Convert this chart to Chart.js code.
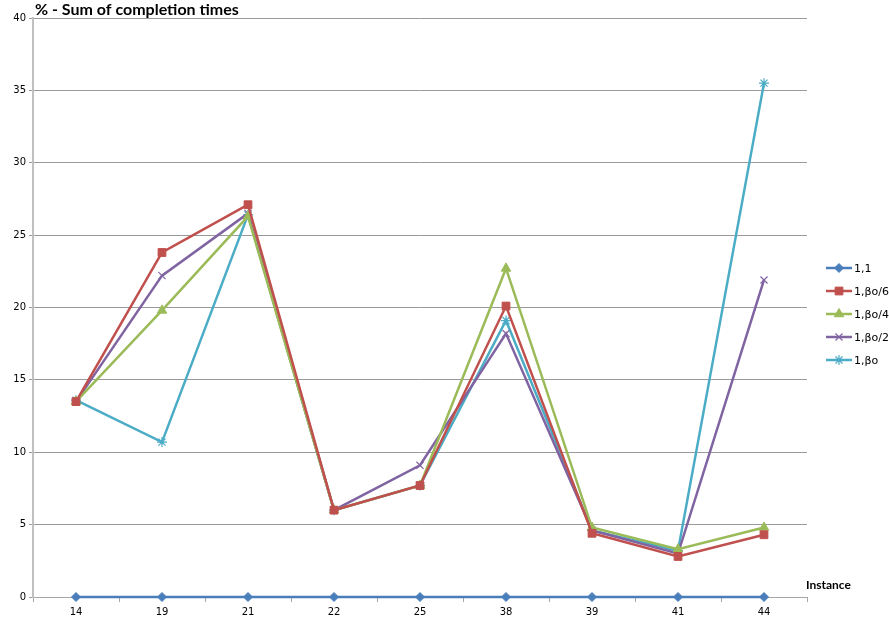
<!DOCTYPE html>
<html>
<head>
<meta charset="utf-8">
<script src="https://cdn.jsdelivr.net/npm/chart.js@4/dist/chart.umd.min.js"></script>
<style>
  html, body { margin: 0; padding: 0; background: #fff; }
  #wrap { width: 889px; height: 625px; }
</style>
</head>
<body>
<div id="wrap"><canvas id="chart" width="889" height="625"></canvas></div>
<script>
// data
var instances = ['14', '19', '21', '22', '25', '38', '39', '41', '44'];
var s11 = [0, 0, 0, 0, 0, 0, 0, 0, 0];
var sB6 = [13.5, 23.8, 27.1, 6.0, 7.7, 20.1, 4.4, 2.8, 4.3];
var sB4 = [13.5, 19.8, 26.3, 6.0, 7.7, 22.7, 4.8, 3.3, 4.8];
var sB2 = [13.5, 22.2, 26.5, 6.0, 9.1, 18.2, 4.6, 3.0, 21.9];
var sB1 = [13.6, 10.7, 26.4, 6.0, 7.7, 19.1, 4.6, 3.2, 35.5];
var yTicks = [0, 5, 10, 15, 20, 25, 30, 35, 40];

var titleText = '% - Sum of completion times';
var xTitle = 'Instance';

function series(label, data, color, style, radius) {
    return {
        label: label,
        data: data,
        borderColor: color,
        backgroundColor: color,
        borderWidth: 2.5,
        pointStyle: style,
        pointRadius: radius,
        pointHoverRadius: radius,
        pointBorderWidth: style === 'crossRot' || style === 'star' ? 1.2 : 1,
        tension: 0,
        clip: false
    };
}

var datasets = [
    series('1,1', s11, '#4A7EBB', 'rectRot', 4.5),
    series('1,\u03b2o/6', sB6, '#C0504D', 'rect', 5.5),
    series('1,\u03b2o/4', sB4, '#9BBB59', 'triangle', 5.5),
    series('1,\u03b2o/2', sB2, '#8064A2', 'crossRot', 5),
    series('1,\u03b2o', sB1, '#4BACC6', 'star', 5)
];

// title, axis label and legend drawn on top
var extras = {
    id: 'extras',
    afterDraw: function(chart) {
        var c = chart.ctx;
        c.save();
        c.fillStyle = '#000';
        c.textBaseline = 'alphabetic';
        c.textAlign = 'left';
        c.font = 'bold 16px Lato';
        c.fillText(titleText, 35, 15);
        c.font = 'bold 12px Lato';
        c.fillText(xTitle, 806, 589);

        // legend
        c.font = '11px "DejaVu Sans"';
        c.textBaseline = 'middle';
        datasets.forEach(function(ds, i) {
            var y = 268 + i * 23;
            c.strokeStyle = ds.borderColor;
            c.lineWidth = 2.5;
            c.beginPath();
            c.moveTo(826, y);
            c.lineTo(852, y);
            c.stroke();
            c.lineWidth = ds.pointBorderWidth;
            c.fillStyle = ds.backgroundColor;
            Chart.helpers.drawPoint(c, {
                pointStyle: ds.pointStyle,
                radius: ds.pointRadius,
                borderWidth: ds.pointBorderWidth,
                rotation: 0
            }, 839, y);
            c.fillStyle = '#000';
            c.fillText(ds.label, 854, y + 1);
        });
        c.restore();
    }
};

document.addEventListener('DOMContentLoaded', function() {
    var ctx = document.getElementById('chart').getContext('2d');
    var chart = new Chart(ctx, {
        type: 'line',
        data: {
            labels: instances,
            datasets: datasets
        },
        options: {
            responsive: false,
            animation: false,
            layout: { padding: { top: 18, right: 82, left: 0, bottom: 0 } },
            plugins: {
                legend: { display: false },
                title: { display: false },
                tooltip: { enabled: false }
            },
            scales: {
                x: {
                    offset: true,
                    grid: {
                        offset: true,
                        drawOnChartArea: false,
                        drawTicks: true,
                        tickLength: 5,
                        color: '#a6a6a6'
                    },
                    border: { color: '#a6a6a6', width: 1 },
                    ticks: {
                        color: '#000',
                        font: { size: 10, family: 'DejaVu Sans' },
                        padding: 4,
                        maxRotation: 0
                    },
                    afterFit: function(scale) { scale.height = 28; }
                },
                y: {
                    min: 0,
                    max: 40,
                    afterBuildTicks: function(scale) {
                        scale.ticks = yTicks.map(function(v) { return { value: v }; });
                    },
                    grid: {
                        color: '#9a9a9a',
                        lineWidth: 1,
                        drawTicks: true,
                        tickLength: 4
                    },
                    border: { color: '#c0c0c0', width: 2 },
                    ticks: {
                        color: '#000',
                        font: { size: 10, family: 'DejaVu Sans' },
                        padding: 3
                    },
                    afterFit: function(scale) { scale.width = 33; }
                }
            }
        },
        plugins: [extras]
    });
});
</script>
</body>
</html>
